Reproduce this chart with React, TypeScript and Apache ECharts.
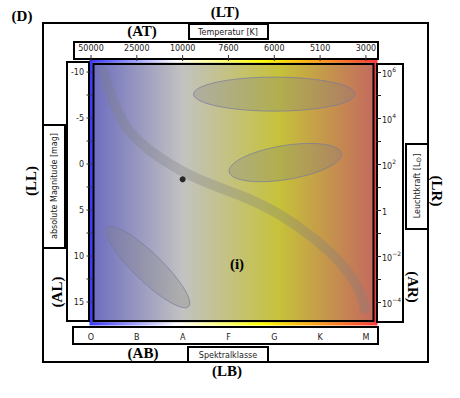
import React, { useEffect, useRef } from "react";
import * as echarts from "echarts";

// ---- data ----
const tempLabels = ["50000", "25000", "10000", "7600", "6000", "5100", "3000"];
const spectralClasses = ["O", "B", "A", "F", "G", "K", "M"];
const classPositions = [0, 1, 2, 3, 4, 5, 6];
const magLabelValues = [-10, -5, 0, 5, 10, 15];
const magTickValues = [-10, -7.5, -5, -2.5, 0, 2.5, 5, 7.5, 10, 12.5, 15];
const lumLabels = ["{a|10}{s|6}", "{a|10}{s|4}", "{a|10}{s|2}", "{a|1}", "{a|10}{s|−2}", "{a|10}{s|−4}"];

// main sequence band (spectral position, absolute magnitude)
const msClass = [0.27, 0.7, 1.23, 1.95, 2.67, 3.4, 4.12, 4.84, 5.43, 5.8, 5.98];
const msMag = [-10, -4.6, -1.7, 0.65, 2.3, 3.7, 5.5, 8.0, 10.7, 13.2, 15.7];

// sun
const sunClass = 2.0;
const sunMag = 1.66;

// star regions (ellipses): centre, semi-axes, tilt in degrees
const regionClass = [4.0, 4.24, 1.24];
const regionMag = [-7.6, -0.16, 11.2];
const regionRx = [1.76, 1.24, 1.24];
const regionRy = [1.85, 1.85, 1.52];
const regionTilt = [0, 9.3, -44];

const X_MIN = 0;
const X_MAX = 6.22;
const Y_MIN = -11.2;
const Y_MAX = 17.39;

const SANS = "DejaVu Sans";
const SERIF = "Liberation Serif";

function boxRect(x1: number, y1: number, x2: number, y2: number, z = 5) {
  return {
    type: "rect",
    z,
    shape: { x: x1, y: y1, width: x2 - x1, height: y2 - y1 },
    style: { fill: "#ffffff", stroke: "#000000", lineWidth: 2 },
  };
}
function frame(x1: number, y1: number, x2: number, y2: number, z = 5) {
  return {
    type: "rect",
    z,
    shape: { x: x1, y: y1, width: x2 - x1, height: y2 - y1 },
    style: { fill: "none", stroke: "#000000", lineWidth: 2 },
  };
}
function bigLabel(text: string, x: number, y: number, rotation = 0) {
  return {
    type: "text",
    z: 10,
    x,
    y,
    rotation,
    style: {
      text,
      fill: "#000",
      fontSize: 15,
      fontWeight: "bold",
      fontFamily: SERIF,
      align: "center",
      verticalAlign: "middle",
    },
  };
}
function smallLabel(text: string, x: number, y: number, rotation = 0, rich?: any) {
  return {
    type: "text",
    z: 10,
    x,
    y,
    rotation,
    style: {
      text,
      fill: "#222",
      fontSize: 8,
      fontFamily: SANS,
      align: "center",
      verticalAlign: "middle",
      rich,
    },
  };
}

export default function App() {
  const ref = useRef<HTMLDivElement>(null);
  useEffect(() => {
    document.body.style.margin = "0";
    const chart = echarts.init(ref.current!, null, { renderer: "svg" });

    const ellipseData = regionClass.map((c, i) => [c, regionMag[i], regionRx[i], regionRy[i], regionTilt[i]]);
    const topTickData = classPositions.map((v) => [v, Y_MIN, 0]);
    const leftTickData = magTickValues.map((m) => [X_MIN, m, 1]);

    const option: any = {
      animation: false,
      grid: { left: 91, top: 61, width: 285, height: 263, containLabel: false },
      xAxis: [
        {
          type: "value",
          position: "top",
          min: X_MIN,
          max: X_MAX,
          z: 8,
          axisLine: { show: false, onZero: false },
          splitLine: { show: false },
          axisTick: { show: false },
          axisLabel: {
            customValues: classPositions,
            margin: 9,
            fontSize: 8,
            fontFamily: SANS,
            color: "#222",
            formatter: (v: number) => tempLabels[Math.round(v)],
          },
        },
        {
          type: "value",
          position: "bottom",
          min: X_MIN,
          max: X_MAX,
          z: 8,
          axisLine: { show: false, onZero: false },
          splitLine: { show: false },
          axisTick: { show: false },
          axisLabel: {
            customValues: classPositions,
            margin: 9,
            fontSize: 8,
            fontFamily: SANS,
            color: "#222",
            formatter: (v: number) => spectralClasses[Math.round(v)],
          },
        },
      ],
      yAxis: [
        {
          type: "value",
          position: "left",
          inverse: true,
          min: Y_MIN,
          max: Y_MAX,
          z: 8,
          axisLine: { show: false, onZero: false },
          splitLine: { show: false },
          axisTick: { show: false },
          axisLabel: {
            customValues: magLabelValues,
            margin: 7,
            fontSize: 8,
            fontFamily: SANS,
            color: "#222",
            formatter: (v: number) => String(v),
          },
        },
        {
          type: "value",
          position: "right",
          inverse: true,
          min: Y_MIN,
          max: Y_MAX,
          z: 8,
          axisLine: { show: false, onZero: false },
          splitLine: { show: false },
          axisTick: { show: true, customValues: magTickValues, length: 5, lineStyle: { color: "#222" } },
          axisLabel: {
            customValues: magLabelValues,
            margin: 6,
            fontSize: 8,
            fontFamily: SANS,
            color: "#222",
            formatter: (v: number) => lumLabels[magLabelValues.indexOf(Math.round(v))],
            rich: {
              a: { fontSize: 8, fontFamily: SANS, color: "#222", lineHeight: 12, verticalAlign: "bottom" },
              s: { fontSize: 6, fontFamily: SANS, color: "#222", lineHeight: 12, verticalAlign: "top", padding: [0, 0, 4, 0] },
            },
          },
        },
      ],
      graphic: [
        // outer frame
        frame(43, 23, 428, 362, 1),
        // axis boxes
        frame(74, 42, 378, 59, 1),
        frame(67, 62, 89, 321, 1),
        frame(377, 64, 403, 322, 1),
        frame(73, 327, 378, 344, 1),
        // label boxes
        boxRect(189, 24, 268, 39, 5),
        boxRect(43, 125, 65, 248, 5),
        boxRect(406, 144, 428, 229, 5),
        boxRect(188, 347, 268, 362, 5),
        // plot background
        {
          type: "rect",
          z: 0,
          shape: { x: 91, y: 61, width: 285, height: 263 },
          style: {
            fill: {
              type: "linear",
              x: 0,
              y: 0,
              x2: 1,
              y2: 0,
              colorStops: [
                { offset: 0, color: "#6b6bbf" },
                { offset: 0.32, color: "#c2c2c2" },
                { offset: 0.66, color: "#c6c23a" },
                { offset: 1, color: "#c4685e" },
              ],
            },
            stroke: {
              type: "linear",
              x: 0,
              y: 0,
              x2: 1,
              y2: 0,
              colorStops: [
                { offset: 0, color: "#3b3bff" },
                { offset: 0.3, color: "#ffffff" },
                { offset: 0.6, color: "#ffff00" },
                { offset: 1, color: "#ff3b3b" },
              ],
            },
            lineWidth: 3,
          },
        },
        frame(93.5, 64, 373.5, 321, 6),
        // titles
        smallLabel("Temperatur [K]", 228, 32),
        smallLabel("absolute Magnitude [mag]", 54, 186, Math.PI / 2),
        smallLabel("Leuchtkraft [L{sub|⊙}]", 417, 186, Math.PI / 2, {
          sub: { fontSize: 7, fontFamily: SANS, fill: "#222", padding: [3, 0, 0, 0] },
        }),
        smallLabel("Spektralklasse", 228, 355),
        // panel labels
        bigLabel("(D)", 22, 16),
        bigLabel("(LT)", 225, 12),
        bigLabel("(AT)", 142, 31),
        bigLabel("(LL)", 31, 181, Math.PI / 2),
        bigLabel("(AL)", 57, 292, Math.PI / 2),
        bigLabel("(LR)", 437, 191, -Math.PI / 2),
        bigLabel("(AR)", 413, 287, -Math.PI / 2),
        bigLabel("(AB)", 143, 353),
        bigLabel("(LB)", 227, 371),
        bigLabel("(i)", 237, 264),
      ],
      series: [
        {
          type: "custom",
          xAxisIndex: 0,
          yAxisIndex: 0,
          clip: false,
          z: 2,
          data: ellipseData,
          renderItem: (params: any, api: any) => {
            const c = api.coord([api.value(0), api.value(1)]);
            const s = api.size([api.value(2), api.value(3)]);
            const rx = s[0];
            const ry = s[1];
            const th = (api.value(4) * Math.PI) / 180;
            const pts: number[][] = [];
            for (let k = 0; k < 72; k++) {
              const t = (k / 72) * Math.PI * 2;
              const ex = rx * Math.cos(t);
              const ey = ry * Math.sin(t);
              pts.push([c[0] + ex * Math.cos(th) - ey * Math.sin(th), c[1] - (ex * Math.sin(th) + ey * Math.cos(th))]);
            }
            return {
              type: "polygon",
              shape: { points: pts },
              style: { fill: "rgba(128,128,128,0.3)", stroke: "rgba(120,120,160,0.7)", lineWidth: 1 },
            };
          },
        },
        {
          type: "line",
          xAxisIndex: 0,
          yAxisIndex: 0,
          clip: false,
          z: 2,
          smooth: 0.4,
          symbol: "none",
          data: msClass.map((c, i) => [c, msMag[i]]),
          lineStyle: { width: 10, color: "rgba(128,128,128,0.32)", cap: "round", join: "round" },
        },
        {
          type: "scatter",
          xAxisIndex: 0,
          yAxisIndex: 0,
          z: 3,
          symbolSize: 6,
          itemStyle: { color: "#000" },
          data: [[sunClass, sunMag]],
        },
        // tick marks of the top (temperature) and left (magnitude) axes
        {
          type: "custom",
          xAxisIndex: 0,
          yAxisIndex: 0,
          clip: false,
          z: 9,
          silent: true,
          data: [...topTickData, ...leftTickData],
          renderItem: (params: any, api: any) => {
            const p = api.coord([api.value(0), api.value(1)]);
            const isLeft = api.value(2) === 1;
            const shape = isLeft
              ? { x1: p[0] - 4.5, y1: p[1], x2: p[0] + 0.5, y2: p[1] }
              : { x1: p[0], y1: p[1] - 6, x2: p[0], y2: p[1] };
            return { type: "line", shape, style: { stroke: "#333", lineWidth: 1 } };
          },
        },
      ],
    };
    chart.setOption(option);
    return () => chart.dispose();
  }, []);
  return <div ref={ref} style={{ width: 460, height: 398 }} />;
}
